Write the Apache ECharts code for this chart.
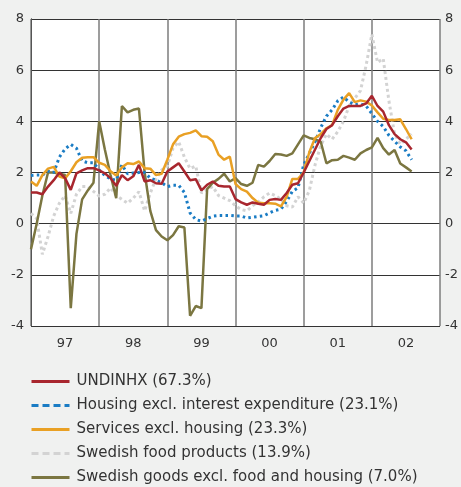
<!DOCTYPE html>
<html>
<head>
<meta charset="utf-8">
<script src="https://cdn.jsdelivr.net/npm/echarts@6/dist/echarts.min.js"></script>
<style>
  html, body { margin: 0; padding: 0; background: #f0f1f0; }
  #main { width: 461px; height: 487px; }
</style>
</head>
<body>
<div id="main"></div>
<script>
// monthly values, Jan 1997 .. Aug 2002
var yearLabels = ['97', '98', '99', '00', '01', '02'];
var yTicks = [-4, -2, 0, 2, 4, 6, 8];

var undinhx = [
    1.22, 1.22, 1.15, 1.45, 1.7, 2.0, 1.78, 1.32, 1.97, 2.08, 2.17, 2.17,
    2.08, 1.97, 1.78, 1.48, 1.9, 1.7, 1.85, 2.3, 1.65, 1.7, 1.58, 1.56,
    2.04, 2.2, 2.36, 2.04, 1.7, 1.74, 1.3, 1.52, 1.65, 1.48, 1.45, 1.45,
    0.96, 0.83, 0.74, 0.83, 0.78, 0.74, 0.93, 0.96, 0.93, 1.2, 1.52, 1.58,
    2.0, 2.45, 2.9, 3.35, 3.7, 3.85, 4.2, 4.5, 4.6, 4.6, 4.6, 4.7,
    5.0, 4.6, 4.38, 3.85, 3.5, 3.3, 3.18, 2.9
];
var housing = [
    1.88, 1.9, 1.9, 2.05, 2.0, 2.6, 2.92, 3.1, 2.95, 2.45, 2.38, 2.38,
    2.1, 1.88, 1.75, 1.7, 2.3, 1.95, 1.98, 2.0, 2.0, 1.78, 1.7, 1.6,
    1.45, 1.5, 1.5, 1.22, 0.42, 0.16, 0.1, 0.2, 0.29, 0.32, 0.32, 0.32,
    0.3, 0.3, 0.22, 0.25, 0.28, 0.31, 0.42, 0.52, 0.57, 0.87, 1.26, 1.4,
    2.3, 2.75, 3.2, 3.75, 4.2, 4.45, 4.8, 4.95, 4.75, 4.65, 4.68, 4.6,
    4.3, 4.0, 3.8, 3.45, 3.22, 3.0, 2.85, 2.5
];
var services = [
    1.65, 1.48, 1.9, 2.15, 2.22, 1.84, 1.77, 2.05, 2.4, 2.58, 2.6, 2.6,
    2.38, 2.3, 2.05, 1.88, 2.2, 2.36, 2.33, 2.43, 2.17, 2.15, 1.9, 1.95,
    2.5, 3.1, 3.4, 3.5, 3.55, 3.65, 3.42, 3.4, 3.22, 2.7, 2.5, 2.62,
    1.55, 1.35, 1.25, 1.0, 0.82, 0.8, 0.8, 0.78, 0.68, 1.05, 1.75, 1.75,
    2.0, 2.8, 3.35, 3.5, 3.73, 3.85, 4.45, 4.85, 5.1, 4.75, 4.82, 4.77,
    4.62, 4.35, 4.1, 4.05, 4.05, 4.08, 3.7, 3.3
];
var food = [
    0.4, 0.2, -1.2, -0.5, 0.3, 0.8, 1.1, 0.4, 1.15, 1.45, 1.45, 1.26,
    1.08, 1.15, 1.4, 1.1, 0.95, 0.8, 1.0, 1.25, 0.5, 1.2, 1.75, 2.1,
    2.25, 2.95, 3.2, 2.6, 2.15, 2.25, 1.2, 1.35, 1.45, 1.1, 1.0, 0.9,
    0.7, 0.55, 0.5, 0.7, 0.85, 1.05, 1.2, 1.1, 0.95, 0.7, 0.65, 1.05,
    0.8, 1.3, 2.3, 3.05, 3.5, 3.3, 3.6, 4.0, 4.6, 4.9, 5.2, 6.2,
    7.4, 6.3, 6.45, 4.8, 3.5, 3.1, 3.3, 3.5
];
var goods = [
    -1.0, 0.0, 1.1, 2.0, 2.0, 1.95, 1.9, -3.3, -0.4, 0.95, 1.3, 1.6,
    4.0, 2.9, 1.9, 1.0, 4.6, 4.35, 4.45, 4.5, 2.0, 0.5, -0.25, -0.5,
    -0.65, -0.45, -0.1, -0.15, -3.6, -3.22, -3.3, 1.35, 1.6, 1.75, 1.95, 1.65,
    1.78, 1.55, 1.48, 1.6, 2.3, 2.23, 2.45, 2.72, 2.7, 2.65, 2.75, 3.1,
    3.45, 3.35, 3.3, 3.2, 2.36, 2.48, 2.5, 2.65, 2.58, 2.5, 2.75, 2.88,
    2.98, 3.35, 2.95, 2.7, 2.88, 2.35, 2.2, 2.04
];

var names = [
    'UNDINHX (67.3%)',
    'Housing excl. interest expenditure (23.1%)',
    'Services excl. housing (23.3%)',
    'Swedish food products (13.9%)',
    'Swedish goods excl. food and housing (7.0%)'
];
var colors = ['#a8262e', '#1a7cc4', '#e9a024', '#d3d3d3', '#7b7641'];

function pairs(arr) {
    return arr.map(function (v, i) { return [i, v]; });
}

var myChart = echarts.init(document.getElementById('main'));
var fontFamily = 'DejaVu Sans';

var option = {
    backgroundColor: '#f0f1f0',
    animation: false,
    textStyle: { fontFamily: fontFamily },
    grid: {
        left: 31, right: 19, top: 19, bottom: 161,
        show: true, backgroundColor: '#ffffff', borderWidth: 0
    },
    legend: {
        orient: 'vertical',
        left: 30,
        top: 374,
        height: 130,
        padding: 0,
        itemWidth: 38,
        itemHeight: 14,
        itemGap: 9,
        itemStyle: { opacity: 0 },
        textStyle: { fontSize: 15, color: '#333', fontFamily: fontFamily, padding: [0, 0, 0, 2] },
        data: [
            { name: names[0], lineStyle: { width: 3 } },
            { name: names[1], lineStyle: { width: 3, type: [7, 4] } },
            { name: names[2], lineStyle: { width: 3 } },
            { name: names[3], lineStyle: { width: 3, type: [7, 4] } },
            { name: names[4], lineStyle: { width: 3 } }
        ]
    },
    xAxis: [
        {
            type: 'value', min: 0, max: 72, interval: 12,
            axisLine: { show: false }, axisTick: { show: false },
            axisLabel: { show: false },
            splitLine: { show: true, lineStyle: { color: '#7d7d7d', width: 1.5 } }
        },
        {
            type: 'value', min: 0, max: 72, interval: 6, position: 'bottom',
            axisLine: { show: false }, axisTick: { show: false },
            splitLine: { show: false },
            axisLabel: {
                margin: 11, fontSize: 13, color: '#333',
                formatter: function (v) {
                    return v % 12 === 6 ? yearLabels[(v - 6) / 12] : '';
                }
            }
        }
    ],
    yAxis: [
        {
            type: 'value', min: yTicks[0], max: yTicks[yTicks.length - 1], interval: 2,
            axisLine: { show: true, lineStyle: { color: '#333', width: 1 } },
            axisTick: { show: false },
            axisLabel: { margin: 7, fontSize: 13, color: '#333' },
            splitLine: { show: true, lineStyle: { color: '#333', width: 1 } }
        },
        {
            type: 'value', min: yTicks[0], max: yTicks[yTicks.length - 1], interval: 2,
            position: 'right',
            axisLine: { show: true, lineStyle: { color: '#555', width: 1 } },
            axisTick: { show: false },
            axisLabel: { margin: 5, fontSize: 13, color: '#333' },
            splitLine: { show: false }
        }
    ],
    series: [
        {
            name: names[3], type: 'line', symbol: 'none', data: pairs(food),
            lineStyle: { color: colors[3], width: 3, type: [3, 3] }, itemStyle: { color: colors[3] }, z: 2
        },
        {
            name: names[4], type: 'line', symbol: 'none', data: pairs(goods),
            lineStyle: { color: colors[4], width: 2.5 }, itemStyle: { color: colors[4] }, z: 3
        },
        {
            name: names[1], type: 'line', symbol: 'none', data: pairs(housing),
            lineStyle: { color: colors[1], width: 3, type: [2.5, 3.3] }, itemStyle: { color: colors[1] }, z: 4
        },
        {
            name: names[2], type: 'line', symbol: 'none', data: pairs(services),
            lineStyle: { color: colors[2], width: 2.5 }, itemStyle: { color: colors[2] }, z: 5
        },
        {
            name: names[0], type: 'line', symbol: 'none', data: pairs(undinhx),
            lineStyle: { color: colors[0], width: 2.5 }, itemStyle: { color: colors[0] }, z: 6
        }
    ]
};
myChart.setOption(option);
</script>
</body>
</html>
